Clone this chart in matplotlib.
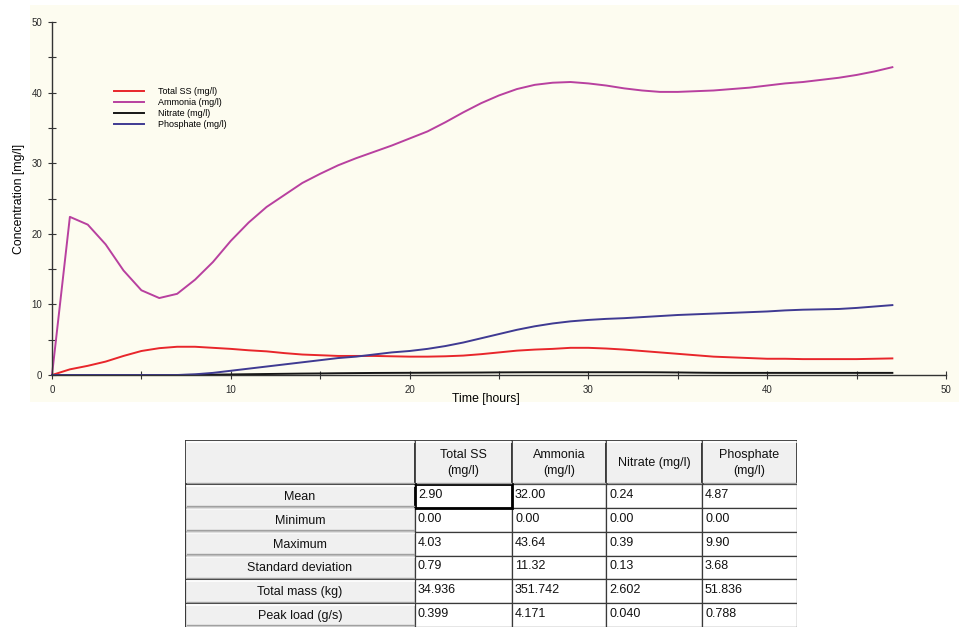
import matplotlib
matplotlib.use('Agg')
import matplotlib.pyplot as plt
from matplotlib.patches import Rectangle
from matplotlib.ticker import MultipleLocator
import numpy as np

plt.rcParams['font.family'] = ['Liberation Sans', 'DejaVu Sans']

# ---- data ----
hours = list(range(0, 48))

total_ss = [0.0, 0.8, 1.3, 1.9, 2.7, 3.4, 3.8, 4.0, 4.0, 3.85, 3.7, 3.5, 3.35, 3.1,
            2.9, 2.8, 2.7, 2.7, 2.7, 2.65, 2.6, 2.6, 2.65, 2.75, 2.95, 3.2, 3.45,
            3.6, 3.7, 3.85, 3.85, 3.75, 3.6, 3.4, 3.2, 3.0, 2.8, 2.6, 2.5, 2.4,
            2.3, 2.3, 2.25, 2.25, 2.25, 2.25, 2.3, 2.35]

ammonia = [0.0, 22.4, 21.3, 18.5, 14.8, 12.0, 10.9, 11.5, 13.5, 16.0, 19.0, 21.6,
           23.8, 25.5, 27.2, 28.5, 29.7, 30.7, 31.6, 32.5, 33.5, 34.5, 35.8, 37.2,
           38.5, 39.6, 40.5, 41.1, 41.4, 41.5, 41.3, 41.0, 40.6, 40.3, 40.1, 40.1,
           40.2, 40.3, 40.5, 40.7, 41.0, 41.3, 41.5, 41.8, 42.1, 42.5, 43.0, 43.6]

nitrate = [0.0, 0.0, 0.0, 0.0, 0.0, 0.0, 0.0, 0.0, 0.02, 0.05, 0.08, 0.11, 0.14,
           0.17, 0.2, 0.22, 0.25, 0.27, 0.29, 0.3, 0.31, 0.32, 0.33, 0.34, 0.35,
           0.37, 0.38, 0.39, 0.39, 0.39, 0.39, 0.39, 0.39, 0.39, 0.38, 0.36, 0.33,
           0.31, 0.3, 0.3, 0.3, 0.3, 0.3, 0.3, 0.3, 0.3, 0.3, 0.3]

phosphate = [0.0, 0.0, 0.0, 0.0, 0.0, 0.0, 0.0, 0.0, 0.1, 0.3, 0.6, 0.9, 1.2, 1.5,
             1.8, 2.1, 2.4, 2.6, 2.9, 3.2, 3.4, 3.7, 4.1, 4.6, 5.2, 5.8, 6.4, 6.9,
             7.3, 7.6, 7.8, 7.95, 8.05, 8.2, 8.35, 8.5, 8.6, 8.7, 8.8, 8.9, 9.0,
             9.15, 9.25, 9.3, 9.35, 9.5, 9.7, 9.9]

series_labels = ['Total SS (mg/l)', 'Ammonia (mg/l)', 'Nitrate (mg/l)', 'Phosphate (mg/l)']
series_colors = ['#E8262B', '#B8409F', '#161616', '#3F3A92']

col_labels = ['Total SS\n(mg/l)', 'Ammonia\n(mg/l)', 'Nitrate (mg/l)', 'Phosphate\n(mg/l)']
row_labels = ['Mean', 'Minimum', 'Maximum', 'Standard deviation', 'Total mass (kg)', 'Peak load (g/s)']
stats = [['2.90', '32.00', '0.24', '4.87'],
         ['0.00', '0.00', '0.00', '0.00'],
         ['4.03', '43.64', '0.39', '9.90'],
         ['0.79', '11.32', '0.13', '3.68'],
         ['34.936', '351.742', '2.602', '51.836'],
         ['0.399', '4.171', '0.040', '0.788']]

W, H = 959, 627
fig = plt.figure(figsize=(W / 100, H / 100), dpi=100)
fig.patch.set_facecolor('white')

bg = '#FDFCF0'
fig.patches.append(Rectangle((30 / W, 1 - 402 / H), (W - 30) / W, 397 / H,
                             transform=fig.transFigure, facecolor=bg,
                             edgecolor='none', zorder=-10))

ax = fig.add_axes([52 / W, 1 - 375 / H, 894 / W, 353 / H])
ax.set_facecolor(bg)
for s, c, lab in zip([total_ss, ammonia, nitrate, phosphate], series_colors, series_labels):
    ax.plot(hours, s, color=c, lw=1.4, label=lab, clip_on=False)

ax.set_xlim(0, 50)
ax.set_ylim(0, 50)
ax.xaxis.set_major_locator(MultipleLocator(10))
ax.xaxis.set_minor_locator(MultipleLocator(5))
ax.yaxis.set_major_locator(MultipleLocator(10))
ax.yaxis.set_minor_locator(MultipleLocator(5))
ax.spines['top'].set_visible(False)
ax.spines['right'].set_visible(False)
for sp in ['left', 'bottom']:
    ax.spines[sp].set_color('#333333')
    ax.spines[sp].set_linewidth(1.0)
ax.tick_params(which='both', direction='inout', length=6, width=0.8, color='#333333',
               labelsize=7, labelcolor='#2a2a2a', pad=4)
ax.set_xlabel('Time [hours]', fontsize=8.8, labelpad=-1, x=0.485)
ax.set_ylabel('Concentration [mg/l]', fontsize=8.8, labelpad=5)

ax.legend(loc='upper left', bbox_to_anchor=(106 / W, 1 - 79 / H),
          bbox_transform=fig.transFigure, frameon=False, fontsize=6.5,
          handlelength=3.3, handletextpad=1.6, labelspacing=0.22)

# ---- statistics table ----
tax = fig.add_axes([185 / W, 0, 612 / W, 187 / H])
tax.axis('off')
col_w = [230, 97, 94, 96, 95]
tw = sum(col_w)
row_h = [44] + [23.8] * 6
th = sum(row_h)

cells = [[''] + col_labels] + [[r] + v for r, v in zip(row_labels, stats)]
y = th
for i, row in enumerate(cells):
    y -= row_h[i]
    x = 0
    for j, txt in enumerate(row):
        w = col_w[j]
        gray = (i == 0 or j == 0)
        face = '#F0F0F0' if gray else 'white'
        tax.add_patch(Rectangle((x / tw, y / th), w / tw, row_h[i] / th,
                                facecolor=face, edgecolor='#3A3A3A',
                                lw=1.3 if i == 0 else 0.9))
        if gray:
            # light bevel
            tax.plot([(x + 1.5) / tw, (x + w - 1.5) / tw], [(y + row_h[i] - 1.5) / th] * 2,
                     color='white', lw=1.2)
            tax.plot([(x + 1.5) / tw, (x + w - 1.5) / tw], [(y + 1.5) / th] * 2,
                     color='#A0A0A0', lw=1.0)
            tax.text((x + w / 2) / tw, (y + row_h[i] / 2 - 1) / th, txt,
                     ha='center', va='center', fontsize=9, color='#111111',
                     linespacing=1.5)
        else:
            tax.text((x + 3) / tw, (y + row_h[i] / 2 + 1) / th, txt,
                     ha='left', va='center', fontsize=9, color='#111111')
        x += w

# selected cell highlight
tax.add_patch(Rectangle((col_w[0] / tw, (th - row_h[0] - row_h[1]) / th),
                        col_w[1] / tw, row_h[1] / th, facecolor='none',
                        edgecolor='black', lw=2.0))
tax.set_xlim(0, 1)
tax.set_ylim(0, 1)

fig.savefig('out.png', dpi=100, facecolor='white')
